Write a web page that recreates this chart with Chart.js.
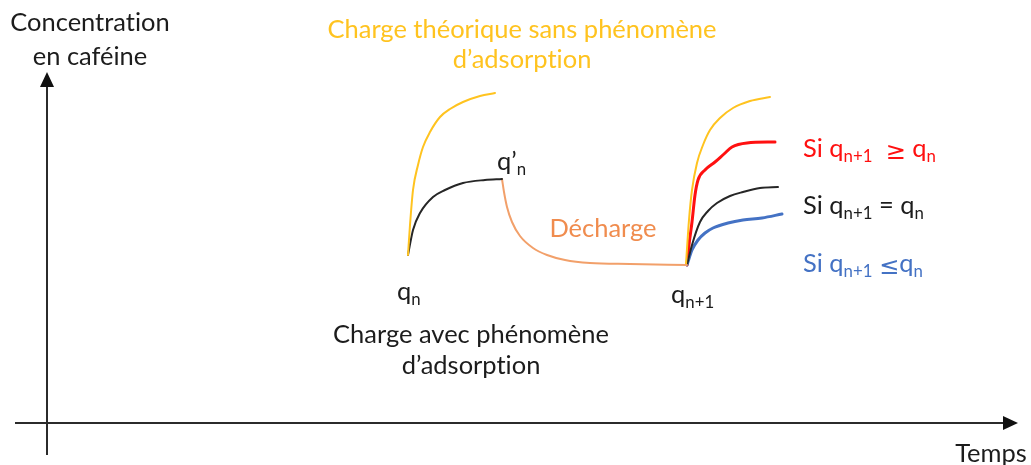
<!DOCTYPE html>
<html lang="fr">
<head>
<meta charset="utf-8">
<title>Charge / décharge en caféine</title>
<script src="https://cdn.jsdelivr.net/npm/chart.js@4/dist/chart.umd.min.js"></script>
<style>
  html, body { margin: 0; padding: 0; background: #ffffff; }
  canvas { display: block; }
</style>
</head>
<body>
<canvas id="chart" width="1031" height="465"></canvas>
<script>
// Schematic time (x) / caffeine concentration (y) values, arbitrary units.
// Each point is [temps, concentration].
const chargeTheorique1 = [[361,168],[363,198],[366,233],[371,258],[376,276],[383,291],[393,306],[403,314],[416,321],[433,327],[448,330]];
const chargeAdsorption1 = [[361,168],[366,193],[373,210],[386,226],[398,233],[416,240],[438,243],[455,244]];
const decharge = [[455,244],[457,231],[460,216],[465,201],[473,187],[486,175],[500,168],[518,163],[543,160],[583,159],[640,158]];
const chargeTheorique2 = [[639,159],[642,203],[645,233],[650,260],[656,278],[663,293],[673,305],[686,315],[703,322],[723,326]];
const chargeSup = [[640,158],[642,178],[645,201],[648,228],[651,243],[658,253],[668,261],[677,269],[685,276],[700,280],[728,281]];
const chargeEgale = [[640,158],[645,178],[653,201],[661,212],[670,220],[683,227],[696,231],[713,235],[731,236]];
const chargeInf = [[640,158],[645,173],[651,183],[658,190],[666,195],[681,200],[696,203],[715,205],[735,209]];

// Axis extents (same units as the series)
const axisX = { from: -32, to: 971 };
const axisY = { from: -32, to: 351 };

const YELLOW = '#FFC31F';
const ORANGE_LINE = '#F2A06A';
const ORANGE_TEXT = '#F08C4E';
const RED = '#FF1010';
const BLUE = '#4472C4';
const INK = '#1c1c1c';

// Text annotations: segments (sub = subscript, sym = math symbol), anchor in data units.
const annotations = [
  { segs: [{t: 'Concentration'}], x: 43, y: 392, align: 'center', color: INK },
  { segs: [{t: 'en caféine'}], x: 43, y: 358, align: 'center', color: INK },
  { segs: [{t: 'Temps'}], x: 944, y: -39, align: 'center', color: INK },
  { segs: [{t: 'Charge théorique sans phénomène'}], x: 475, y: 385, align: 'center', color: YELLOW },
  { segs: [{t: 'd’adsorption'}], x: 475, y: 355, align: 'center', color: YELLOW },
  { segs: [{t: 'q’'}, {t: 'n', sub: true}], x: 450, y: 253, align: 'left', color: INK },
  { segs: [{t: 'Décharge'}], x: 556, y: 186, align: 'center', color: ORANGE_TEXT },
  { segs: [{t: 'q'}, {t: 'n', sub: true}], x: 350, y: 123, align: 'left', color: INK },
  { segs: [{t: 'q'}, {t: 'n+1', sub: true}], x: 624, y: 120, align: 'left', color: INK },
  { segs: [{t: 'Charge avec phénomène'}], x: 424, y: 80, align: 'center', color: INK },
  { segs: [{t: 'd’adsorption'}], x: 424, y: 49, align: 'center', color: INK },
  { segs: [{t: 'Si q'}, {t: 'n+1', sub: true}, {t: '  '}, {t: '≥', sym: true}, {t: ' q'}, {t: 'n', sub: true}], x: 756, y: 266, align: 'left', color: RED },
  { segs: [{t: 'Si q'}, {t: 'n+1', sub: true}, {t: ' = q'}, {t: 'n', sub: true}], x: 756, y: 209, align: 'left', color: INK },
  { segs: [{t: 'Si q'}, {t: 'n+1', sub: true}, {t: ' '}, {t: '≤', sym: true}, {t: 'q'}, {t: 'n', sub: true}], x: 756, y: 151, align: 'left', color: BLUE }
];

const FONT_FAMILY = 'Lato, "Open Sans", sans-serif';
const SYMBOL_FAMILY = '"DejaVu Sans", sans-serif';

function toPoints(arr) { return arr.map(([x, y]) => ({ x, y })); }

function series(data, color, width) {
  return {
    data: toPoints(data),
    showLine: true,
    borderColor: color,
    borderWidth: width,
    pointRadius: 0,
    pointHoverRadius: 0,
    fill: false,
    cubicInterpolationMode: 'monotone',
    borderCapStyle: 'round',
    borderJoinStyle: 'round'
  };
}

// Arrowed axes drawn through the chart's scales
const arrowAxes = {
  id: 'arrowAxes',
  beforeDatasetsDraw(chart) {
    const { ctx, scales: { x, y } } = chart;
    const x0 = x.getPixelForValue(0), y0 = y.getPixelForValue(0);
    const xl = x.getPixelForValue(axisX.from), xr = x.getPixelForValue(axisX.to);
    const yb = y.getPixelForValue(axisY.from), yt = y.getPixelForValue(axisY.to);
    const head = 15, half = 7;
    ctx.save();
    ctx.strokeStyle = '#2b2b2b';
    ctx.fillStyle = '#111111';
    ctx.lineWidth = 2;
    ctx.beginPath();
    ctx.moveTo(xl, y0); ctx.lineTo(xr - head + 1, y0);
    ctx.moveTo(x0, yb); ctx.lineTo(x0, yt + head - 1);
    ctx.stroke();
    ctx.beginPath();
    ctx.moveTo(xr, y0); ctx.lineTo(xr - head, y0 - half); ctx.lineTo(xr - head, y0 + half); ctx.closePath();
    ctx.fill();
    ctx.beginPath();
    ctx.moveTo(x0, yt); ctx.lineTo(x0 - half, yt + head); ctx.lineTo(x0 + half, yt + head); ctx.closePath();
    ctx.fill();
    ctx.restore();
  }
};

// Labels with subscripts and math symbols
const richLabels = {
  id: 'richLabels',
  afterDatasetsDraw(chart) {
    const { ctx, scales: { x, y } } = chart;
    ctx.save();
    if ('textRendering' in ctx) ctx.textRendering = 'optimizeSpeed'; // no "ti" ligature
    ctx.font = '100px ' + FONT_FAMILY;
    const size = 100 * 276 / ctx.measureText('Charge avec phénomène').width;
    const subSize = size * 0.66;
    const fontOf = s => s.sym ? (size * 0.95) + 'px ' + SYMBOL_FAMILY
                              : (s.sub ? subSize : size) + 'px ' + FONT_FAMILY;
    ctx.textBaseline = 'alphabetic';
    ctx.textAlign = 'left';
    annotations.forEach(a => {
      const widths = a.segs.map(s => { ctx.font = fontOf(s); return ctx.measureText(s.t).width; });
      const total = widths.reduce((p, c) => p + c, 0);
      let px = x.getPixelForValue(a.x);
      const py = y.getPixelForValue(a.y);
      if (a.align === 'center') px -= total / 2;
      ctx.fillStyle = a.color;
      a.segs.forEach((s, i) => {
        ctx.font = fontOf(s);
        ctx.fillText(s.t, px, py + (s.sub ? size * 0.2 : (s.sym ? size * 0.08 : 0)));
        px += widths[i];
      });
    });
    ctx.restore();
  }
};

new Chart(document.getElementById('chart'), {
  type: 'scatter',
  data: {
    datasets: [
      series(chargeTheorique1, YELLOW, 2),
      series(chargeAdsorption1, '#262626', 2),
      series(decharge, ORANGE_LINE, 2),
      series(chargeTheorique2, YELLOW, 2),
      series(chargeEgale, '#262626', 2),
      series(chargeInf, BLUE, 3),
      series(chargeSup, RED, 3)
    ]
  },
  options: {
    responsive: false,
    animation: false,
    events: [],
    layout: { padding: 0 },
    plugins: { legend: { display: false }, tooltip: { enabled: false } },
    scales: {
      x: { type: 'linear', display: false, min: -47, max: 984 },
      y: { type: 'linear', display: false, min: -42, max: 423 }
    }
  },
  plugins: [arrowAxes, richLabels]
});
</script>
</body>
</html>
